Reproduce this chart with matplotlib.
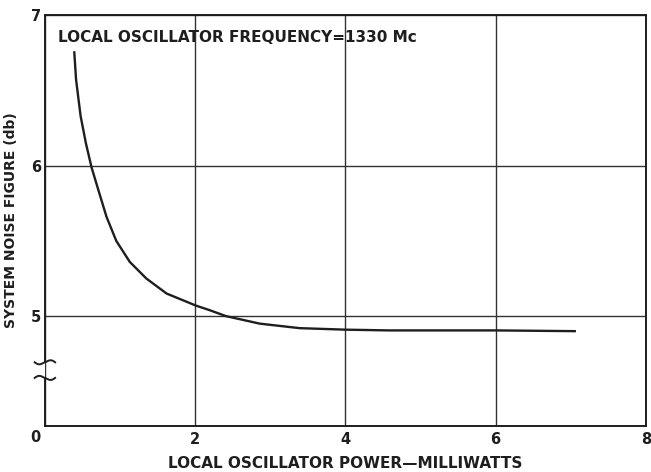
import numpy as np
import matplotlib
matplotlib.use("Agg")
import matplotlib.pyplot as plt
import matplotlib.transforms as mtransforms

# Measured system noise figure vs local oscillator drive
lo_power_mw = [0.39, 0.415, 0.475, 0.545, 0.62, 0.71, 0.82, 0.95, 1.13, 1.35, 1.62,
               2.01, 2.19, 2.41, 2.86, 3.39, 4.0, 4.58, 6.0, 7.07]
noise_fig_db = [6.76, 6.57, 6.33, 6.15, 5.99, 5.84, 5.66, 5.50, 5.36, 5.25, 5.15,
                5.07, 5.04, 5.0, 4.95, 4.92, 4.91, 4.905, 4.905, 4.90]

x_ticks = [0, 2, 4, 6, 8]
y_ticks = [0, 5, 6, 7]
note = "LOCAL OSCILLATOR FREQUENCY=1330 Mc"

# broken y axis: linear above BREAK, everything from 0 to BREAK squeezed
BREAK = 4.6
ZERO_AT = 4.27


def fwd(y):
    y = np.asarray(y, dtype=float)
    return np.where(y >= BREAK, y, ZERO_AT + y * (BREAK - ZERO_AT) / BREAK)


def inv(u):
    u = np.asarray(u, dtype=float)
    return np.where(u >= BREAK, u, (u - ZERO_AT) * BREAK / (BREAK - ZERO_AT))


ink = "#1e1e1e"
plt.rcParams["font.family"] = ["DejaVu Sans"]

fig = plt.figure(figsize=(6.51, 4.72), dpi=100)
ax = fig.add_axes([0.069, 0.0975, 0.923, 0.8705])
ax.set_yscale("function", functions=(fwd, inv))

ax.plot(lo_power_mw, noise_fig_db, color=ink, lw=1.7,
        solid_capstyle="butt", solid_joinstyle="round")

ax.set_xlim(0, 8)
ax.set_ylim(0, 7)
ax.set_xticks(x_ticks)
ax.set_yticks(y_ticks)
ax.set_xticklabels(["", "2", "4", "6", "8"])
ax.set_yticklabels(["0", "5", "6", "7"])
ax.tick_params(length=0, labelsize=10.5, colors=ink, pad=4)
ax.tick_params(axis="y", pad=3)
for lab in ax.get_yticklabels() + ax.get_xticklabels():
    lab.set_fontweight("bold")

# drop the shared origin "0" below the corner
zero = ax.get_yticklabels()[0]
zero.set_transform(zero.get_transform() +
                   mtransforms.ScaledTranslation(0.0, -0.10, fig.dpi_scale_trans))

ax.grid(True, color="#333333", lw=1.0)
for s in ax.spines.values():
    s.set_color(ink)
    s.set_linewidth(1.4)

# left spine is cut at the break and marked with two small squiggles
ax.spines["left"].set_visible(False)
lo_gap, hi_gap = 0.117, 0.155
ax.plot([0, 0], [0, lo_gap], transform=ax.transAxes, color=ink, lw=1.4, clip_on=False)
ax.plot([0, 0], [hi_gap, 1], transform=ax.transAxes, color=ink, lw=1.4, clip_on=False)
t = np.linspace(-1, 1, 40)
for yc, sgn in [(hi_gap, 1), (lo_gap, -1)]:
    xs = t * 0.017
    ys = yc + sgn * 0.006 * np.sin(np.pi * t) * np.abs(t) ** 0.3
    ax.plot(xs, ys, transform=ax.transAxes, color=ink, lw=1.4, clip_on=False)

ax.text(0.021, 0.963, note, transform=ax.transAxes, ha="left", va="top",
        fontsize=11, color=ink, fontweight="bold")

ax.set_xlabel("LOCAL OSCILLATOR POWER\u2014MILLIWATTS", fontsize=11,
              color=ink, fontweight="bold")
ax.set_ylabel("SYSTEM NOISE FIGURE (db)", fontsize=10, color=ink,
              fontweight="bold")
ax.yaxis.set_label_coords(-0.044, 0.5)
ax.xaxis.set_label_coords(0.5, -0.073)

fig.savefig("out.png", dpi=100)
